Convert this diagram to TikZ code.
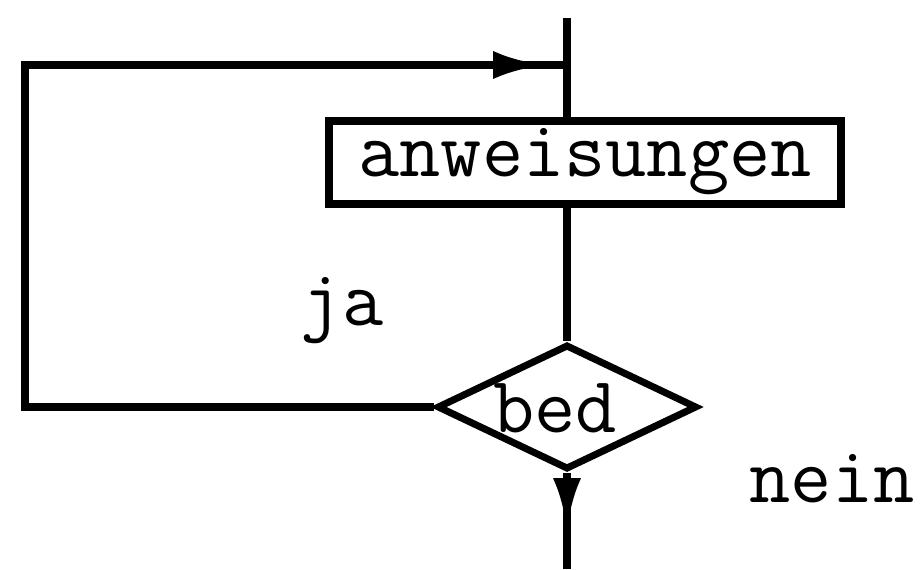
\documentclass[tikz,border=0pt]{standalone}
\usetikzlibrary{shapes.geometric}
\usetikzlibrary{arrows.meta}

\tikzset{
  schrift/.style={font=\ttfamily\fontsize{40}{44}\selectfont},
  linie/.style={line width=4pt},
  kasten/.style={draw, line width=4pt, schrift, inner sep=0pt,
    minimum width=256pt, minimum height=41.5pt},
  raute/.style={draw, diamond, line width=3.5pt, schrift, inner sep=0pt, aspect=2,
    minimum width=130pt, minimum height=62.5pt},
  pfeil/.style={linie, -{Latex[length=26pt,width=14pt]}},
}

\begin{document}
\begin{tikzpicture}[x=0.5pt, y=-0.5pt]
  \useasboundingbox (0,0) rectangle (920,569);

  \coordinate (top) at (567,18);
  \node[kasten] (anw) at (585,162) {anweisungen};
  \node[raute] (bed) at (567,407) {};
  \node[schrift, anchor=base] (bedtext) at (555,432) {bed};
  \coordinate (out) at (567,569);

  % schleife zurueck
  \coordinate (lu) at (25,407);
  \coordinate (lo) at (25,65);
  \coordinate (ein) at (567,65);
  \coordinate (spitze1) at (545,65);
  \coordinate (spitze2) at (567,530);

  \draw[linie] (top) -- (top |- anw.north);
  \draw[linie] (anw.south -| top) -- (bed.north);

  \draw[linie, line join=miter] (bed.west) -- (lu) -- (lo) -- (ein);
  \draw[pfeil] (lo) -- (spitze1);

  \draw[linie] (bed.south) -- (out);
  \draw[pfeil] (bed.south) -- (spitze2);

  \node[schrift, anchor=base] (ja) at (342,325) {ja};
  \node[schrift, anchor=base] (nein) at (832,502) {nein};
\end{tikzpicture}
\end{document}
